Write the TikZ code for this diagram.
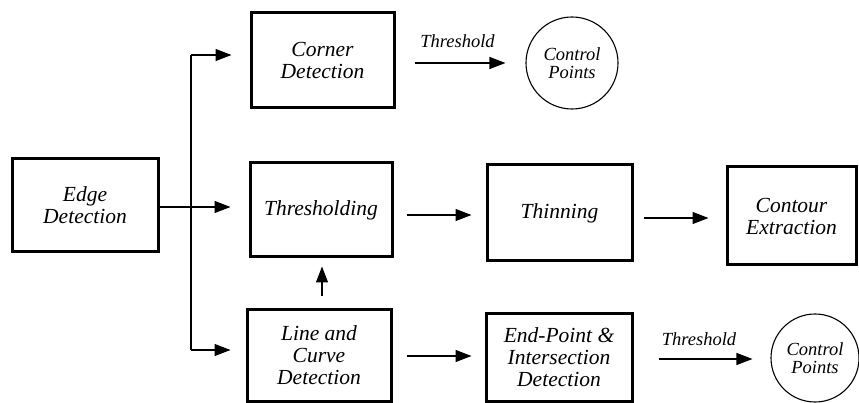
\documentclass[tikz,border=0pt]{standalone}
\usepackage{fontspec}
\setmainfont{Liberation Serif}
\usetikzlibrary{arrows.meta}
\begin{document}
\begin{tikzpicture}[x=1pt,y=-1pt,
  box/.style={draw, line width=3pt, align=center, inner sep=0pt,
    font=\fontsize{21.5}{22}\selectfont\itshape},
  cpt/.style={draw, circle, line width=1.1pt, align=center, inner sep=0pt,
    font=\fontsize{18.5}{18}\selectfont\itshape},
  lbl/.style={font=\fontsize{18.5}{18}\selectfont\itshape, inner sep=0pt},
  conn/.style={line width=1.2pt},
  arr/.style={conn, -{Triangle[length=16pt,width=12pt]}}]
\useasboundingbox (0,0) rectangle (859,403);
\fill[white] (0,0) rectangle (859,403);

\node[box, minimum width=146pt, minimum height=93pt] (edge) at (85,205.5) {Edge\\Detection};
\node[box, minimum width=143pt, minimum height=95pt] (corner) at (322.5,60.5) {Corner\\Detection};
\node[box, minimum width=142pt, minimum height=94pt] (thr) at (321,210) {Thresholding};
\node[box, minimum width=145pt, minimum height=96pt] (thin) at (559.5,213) {Thinning};
\node[box, minimum width=129pt, minimum height=98pt] (cont) at (791.5,216) {Contour\\Extraction};
\node[box, minimum width=144pt, minimum height=92pt] (line) at (319,355) {Line and\\Curve\\Detection};
\node[box, minimum width=146pt, minimum height=88pt] (endp) at (559,357) {End-Point \&\\Intersection\\Detection};
\node[cpt, minimum size=92pt] (cp1) at (572,63) {Control\\Points};
\node[cpt, minimum size=88pt] (cp2) at (815,358) {Control\\Points};

\coordinate (b1) at (191,55);
\coordinate (b3) at (191,350);

% edge -> thresholding
\draw[arr, shorten >=18pt] ([yshift=-1.5pt]edge.east) -- ([yshift=-1.5pt]edge.east -| thr.west);
% branch
\draw[conn] (b1) -- (b3);
\draw[arr, shorten >=18pt] (b1) -- (b1 -| corner.west);
\draw[arr, shorten >=15pt] (b3) -- (b3 -| line.west);
% corner -> control points
\draw[arr, shorten <=19pt, shorten >=20pt] ([yshift=-2.5pt]corner.east) -- ([yshift=-2.5pt]corner.east -| cp1.west)
  node[lbl, midway, anchor=base, yshift=15pt, xshift=-3pt] {Threshold};
% thresholding -> thinning
\draw[arr, shorten <=13pt, shorten >=14pt] ([yshift=-5pt]thr.east) -- ([yshift=-5pt]thr.east -| thin.west);
% thinning -> contour
\draw[arr, shorten <=10pt, shorten >=17pt] ([yshift=-5pt]thin.east) -- ([yshift=-5pt]thin.east -| cont.west);
% line -> thresholding (up)
\draw[arr, shorten <=12pt, shorten >=8pt] ([xshift=3pt]line.north) -- ([xshift=3pt]line.north |- thr.south);
% line -> end-point
\draw[arr, shorten <=14pt, shorten >=13pt] ([yshift=-1pt]line.east) -- ([yshift=-1pt]line.east -| endp.west);
% end-point -> control points
\draw[arr, shorten <=25pt, shorten >=18pt] ([yshift=-2pt]endp.east) -- ([yshift=-2pt]endp.east -| cp2.west)
  node[lbl, midway, anchor=base, yshift=14pt, xshift=-3pt] {Threshold};
\end{tikzpicture}
\end{document}
